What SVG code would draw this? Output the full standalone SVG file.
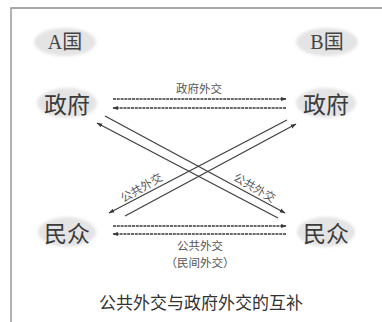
<svg xmlns="http://www.w3.org/2000/svg" width="382" height="322" viewBox="0 0 382 322">
  <style>
    .frame { stroke: #8a8a8a; stroke-width: 1.3; fill: none; }
    .bubble { fill: #e4e4e4; filter: url(#soft); }
    .big { font-family: "Noto Sans CJK SC", "Liberation Sans", sans-serif; font-size: 23px; fill: #3a3a3a; text-anchor: middle; dominant-baseline: central; }
    .ctry { font-family: "Liberation Serif", "Noto Sans CJK SC", serif; font-size: 20px; fill: #444; text-anchor: middle; dominant-baseline: central; }
    .lbl { font-family: "Noto Sans CJK SC", "Liberation Sans", sans-serif; font-size: 11.5px; fill: #555; text-anchor: middle; dominant-baseline: central; }
    .title { font-family: "Noto Sans CJK SC", "Liberation Sans", sans-serif; font-size: 17px; fill: #333; text-anchor: middle; dominant-baseline: central; }
    .hz { stroke: #3a3a3a; stroke-width: 1.7; stroke-dasharray: 3 0.8; fill: none; }
    .dg { stroke: #444; stroke-width: 1.4; fill: none; }
  </style>
  <defs>
    <filter id="soft" x="-20%" y="-30%" width="140%" height="160%">
      <feGaussianBlur stdDeviation="1.5"/>
    </filter>
    <marker id="ah" viewBox="0 0 10 10" refX="9" refY="5" markerWidth="6" markerHeight="6" orient="auto-start-reverse" markerUnits="userSpaceOnUse">
      <path d="M0,1.5 L10,5 L0,8.5 z" fill="#3a3a3a"/>
    </marker>
  </defs>

  <rect width="382" height="322" fill="#ffffff"/>
  <path class="frame" d="M11,322 L11,8 L382,8"/>

  <g id="nodeA">
    <ellipse class="bubble" cx="65" cy="42" rx="31" ry="14"/>
    <text class="ctry" x="65" y="42">A国</text>
  </g>
  <g id="nodeB">
    <ellipse class="bubble" cx="327" cy="42" rx="31" ry="14"/>
    <text class="ctry" x="327" y="42">B国</text>
  </g>
  <g id="govA">
    <ellipse class="bubble" cx="67" cy="103" rx="30" ry="15"/>
    <text class="big" x="67" y="103">政府</text>
  </g>
  <g id="govB">
    <ellipse class="bubble" cx="326" cy="103" rx="30" ry="15"/>
    <text class="big" x="326" y="103">政府</text>
  </g>
  <g id="pubA">
    <ellipse class="bubble" cx="67" cy="232" rx="29" ry="15"/>
    <text class="big" x="67" y="232">民众</text>
  </g>
  <g id="pubB">
    <ellipse class="bubble" cx="326" cy="232" rx="29" ry="15"/>
    <text class="big" x="326" y="232">民众</text>
  </g>

  <g id="connectors">
    <line class="hz" x1="113" y1="99" x2="286" y2="99" marker-end="url(#ah)"/>
    <line class="hz" x1="286" y1="108" x2="113" y2="108" marker-end="url(#ah)"/>
    <line class="hz" x1="113" y1="226" x2="286" y2="226" marker-end="url(#ah)"/>
    <line class="hz" x1="286" y1="234" x2="113" y2="234" marker-end="url(#ah)"/>
    <line class="dg" x1="105" y1="116" x2="285" y2="213" marker-end="url(#ah)"/>
    <line class="dg" x1="278" y1="218" x2="97" y2="123" marker-end="url(#ah)"/>
    <line class="dg" x1="287" y1="120" x2="109" y2="213" marker-end="url(#ah)"/>
    <line class="dg" x1="125" y1="216" x2="296" y2="124" marker-end="url(#ah)"/>
    <text class="lbl" x="199" y="88">政府外交</text>
    <text class="lbl" x="141" y="187" transform="rotate(-30 141 187)">公共外交</text>
    <text class="lbl" x="255" y="187" transform="rotate(30 255 187)">公共外交</text>
    <text class="lbl" x="200" y="245">公共外交</text>
    <text class="lbl" x="200" y="262">（民间外交）</text>
  </g>

  <text class="title" x="201" y="301">公共外交与政府外交的互补</text>
</svg>
